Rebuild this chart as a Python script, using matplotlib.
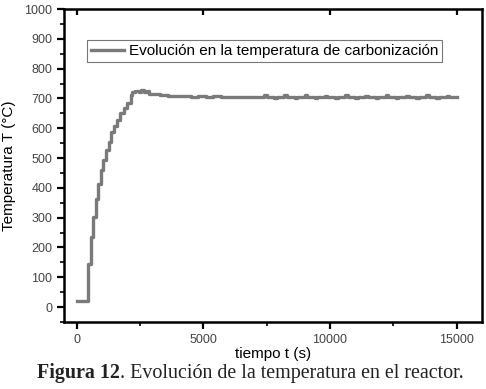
import matplotlib.pyplot as plt
from matplotlib.ticker import MultipleLocator
from matplotlib.transforms import offset_copy

# time (s) and temperature (°C), drawn as steps
tiempo = [0, 445, 550, 655, 750, 855, 970, 1050, 1140, 1270, 1365, 1470,
          1600, 1730, 1860, 2000, 2125, 2190, 2320, 2450, 2550, 2650, 2780,
          2850, 3300, 3600, 3900, 4200, 4500, 4800, 5100, 5400, 5700, 6000,
          6300, 6600, 6900, 7200, 7400, 7500, 7800, 7900, 8200, 8300, 8600,
          8700, 9000, 9100, 9400, 9500, 9800, 9900, 10200, 10300, 10600,
          10700, 11000, 11100, 11400, 11500, 11800, 11900, 12200, 12300,
          12600, 12700, 13000, 13100, 13400, 13500, 13800, 13900, 14200,
          14300, 14600, 14700, 15000]
temperatura = [20, 144, 234, 302, 364, 414, 459, 493, 527, 555, 589, 606,
               628, 651, 668, 685, 713, 721, 725, 722, 727, 720, 724,
               716, 712, 709, 707, 707, 705, 707, 706, 707, 705, 706,
               706, 705, 706, 706, 710, 706, 702, 706, 711, 706, 701,
               706, 710, 705, 702, 706, 709, 706, 701, 705, 710,
               706, 702, 706, 709, 705, 701, 706, 710, 705,
               702, 706, 709, 705, 701, 706, 710, 705, 702,
               706, 709, 705, 706]

etiqueta = 'Evolución en la temperatura de carbonización'

plt.rcParams['font.family'] = ['Liberation Sans', 'DejaVu Sans']

fig = plt.figure(figsize=(4.86, 3.89), dpi=100)
ax = fig.add_axes([64 / 486, 1 - 322 / 389, (482 - 64) / 486, (322 - 9) / 389])

ax.step(tiempo, temperatura, where='post', color='#7a7a7a', linewidth=2.4, label=etiqueta)

ax.set_xlim(-500, 16000)
ax.set_ylim(-50, 1000)
ax.xaxis.set_major_locator(MultipleLocator(5000))
ax.xaxis.set_minor_locator(MultipleLocator(2500))
ax.yaxis.set_major_locator(MultipleLocator(100))
ax.yaxis.set_minor_locator(MultipleLocator(50))

for s in ax.spines.values():
    s.set_linewidth(1.8)

ax.tick_params(which='major', direction='out', length=5, width=1.6, labelsize=9,
               labelcolor='#444444', right=False)
ax.tick_params(which='minor', direction='out', length=3, width=1.2)
ax.tick_params(axis='x', which='major', top=True)
# top ticks point inward
for t in ax.xaxis.get_major_ticks():
    t.tick2line.set_marker(3)
    t.tick2line.set_markersize(4)

ax.set_xlabel('tiempo t (s)', fontsize=11, labelpad=1)
ax.set_ylabel('Temperatura T (°C)', fontsize=11, labelpad=6)

leg = ax.legend(loc='upper left', bbox_to_anchor=(0.055, 0.9), fontsize=11,
                handlelength=2.2, handletextpad=0.3, borderpad=0.25,
                fancybox=False, framealpha=1, borderaxespad=0)
leg.get_frame().set_edgecolor('#777777')
leg.get_frame().set_linewidth(0.8)

# caption: bold "Figura 12" followed by normal text
cap_y = 1 - 378 / 389
t1 = fig.text(37 / 486, cap_y, 'Figura 12', ha='left', va='baseline', fontsize=14.4,
              family='Liberation Serif', weight='bold', color='#222222')
fig.canvas.draw()
w = t1.get_window_extent().width
fig.text(37 / 486, cap_y, '. Evolución de la temperatura en el reactor.', ha='left', va='baseline',
         fontsize=14.4, family='Liberation Serif', color='#222222',
         transform=offset_copy(fig.transFigure, fig=fig, x=w, y=0, units='dots'))

fig.savefig('out.png', dpi=100)
